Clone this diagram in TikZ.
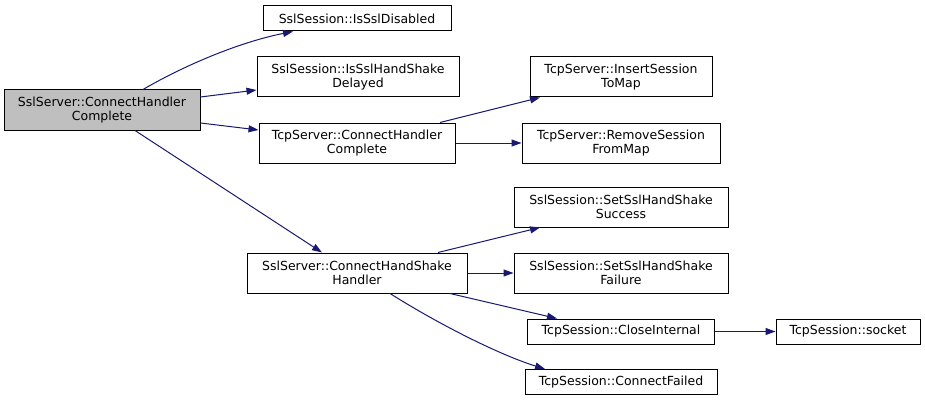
\documentclass[tikz,border=0pt]{standalone}
\usepackage{fontspec}
\setmainfont{DejaVu Sans}
\usetikzlibrary{arrows.meta}
\definecolor{edgeblue}{RGB}{25,25,112}
\definecolor{rootgray}{RGB}{191,191,191}
\tikzset{
  fn/.style={draw=black, line width=1pt, fill=white, align=center, inner sep=0pt,
    font=\fontsize{12.5}{14.5}\selectfont},
  two/.style={fn, minimum height=40pt},
  one/.style={fn, minimum height=25pt},
  call/.style={draw=edgeblue, line width=1pt, -{Triangle[length=10pt,width=7pt]}},
}
\begin{document}
\begin{tikzpicture}[x=1pt,y=-1pt]
\useasboundingbox (0,0) rectangle (925,401);
\node[two, fill=rootgray, minimum width=196pt] (root) at (102,110) {SslServer::ConnectHandler\\Complete};
\node[one, minimum width=188pt] (dis) at (357,18.5) {SslSession::IsSslDisabled};
\node[two, minimum width=202pt] (del) at (358,77) {SslSession::IsSslHandShake\\Delayed};
\node[two, minimum width=196pt] (tch) at (357,143) {TcpServer::ConnectHandler\\Complete};
\node[two, minimum width=220pt] (hs) at (357,273) {SslServer::ConnectHandShake\\Handler};
\node[two, minimum width=182pt] (ins) at (621,77) {TcpServer::InsertSession\\ToMap};
\node[two, minimum width=198pt] (rem) at (621,143) {TcpServer::RemoveSession\\FromMap};
\node[two, minimum width=214pt] (suc) at (621,207) {SslSession::SetSslHandShake\\Success};
\node[two, minimum width=214pt] (fai) at (621,273) {SslSession::SetSslHandShake\\Failure};
\node[one, minimum width=187pt] (ci) at (621,331.5) {TcpSession::CloseInternal};
\node[one, minimum width=192pt] (cf) at (621,382) {TcpSession::ConnectFailed};
\node[one, minimum width=144pt] (sock) at (848,331.5) {TcpSession::socket};

\draw[call] ([xshift=41pt]root.north) .. controls (185,65) and (240,42) .. ([xshift=-64pt]dis.south);
\draw[call] ([yshift=13pt]root.east) -- ([yshift=-13pt]del.west);
\draw[call] ([yshift=-13pt]root.east) -- ([yshift=13pt]tch.west);
\draw[call] ([xshift=33pt]root.south) -- ([xshift=-35pt]hs.north);
\draw[call] ([xshift=83pt]tch.north) -- ([xshift=-81pt]ins.south);
\draw[call] (tch.east) -- (rem.west);
\draw[call] ([xshift=81pt]hs.north) -- ([xshift=-81pt]suc.south);
\draw[call] (hs.east) -- (fai.west);
\draw[call] ([xshift=93pt]hs.south) -- ([xshift=-64pt]ci.north);
\draw[call] ([xshift=33pt]hs.south) .. controls (440,325) and (500,355) .. ([xshift=-76pt]cf.north);
\draw[call] (ci.east) -- (sock.west);
\end{tikzpicture}
\end{document}
